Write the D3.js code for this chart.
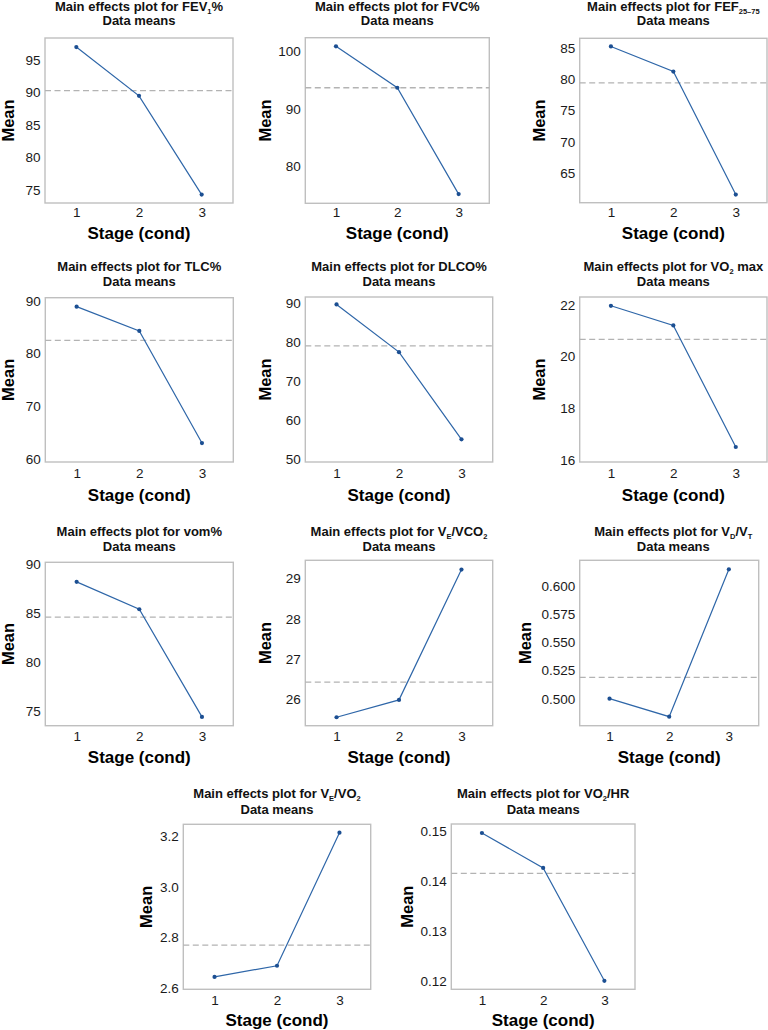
<!DOCTYPE html>
<html>
<head>
<meta charset="utf-8">
<script src="https://cdn.jsdelivr.net/npm/d3@7"></script>
<style>
  html, body { margin: 0; padding: 0; background: #fff; }
  svg { display: block; font-family: "Liberation Sans", Arial, sans-serif; }
</style>
</head>
<body>
<svg id="chart" width="768" height="1030"></svg>
<script>
// ---------- data ----------
const stages = [1, 2, 3];
const stageTicks = [1, 2, 3];
const xLabel = "Stage (cond)";
const yLabel = "Mean";
const subtitle = "Data means";

const fev1Means = [97.0, 89.5, 74.3];
const fvcMeans = [100.9, 93.7, 75.2];
const fefMeans = [85.2, 81.2, 61.6];
const tlcMeans = [88.9, 84.3, 63.0];
const dlcoMeans = [89.6, 77.4, 55.1];
const vo2maxMeans = [21.97, 21.21, 16.50];
const vomMeans = [88.2, 85.4, 74.4];
const veVco2Means = [25.56, 25.99, 29.22];
const vdVtMeans = [0.500, 0.484, 0.615];
const veVo2Means = [2.645, 2.689, 3.214];
const vo2HrMeans = [0.1496, 0.1426, 0.1200];

const grandMeans = [90.3, 93.7, 79.4, 82.5, 79.0, 20.67, 84.6, 26.43, 0.519, 2.770, 0.1415];

const fev1Ticks = [75, 80, 85, 90, 95];
const fvcTicks = [80, 90, 100];
const fefTicks = [65, 70, 75, 80, 85];
const tlcTicks = [60, 70, 80, 90];
const dlcoTicks = [50, 60, 70, 80, 90];
const vo2maxTicks = [16, 18, 20, 22];
const vomTicks = [75, 80, 85, 90];
const veVco2Ticks = [26, 27, 28, 29];
const vdVtTicks = [0.500, 0.525, 0.550, 0.575, 0.600];
const veVo2Ticks = [2.6, 2.8, 3.0, 3.2];
const vo2HrTicks = [0.12, 0.13, 0.14, 0.15];

const yDomains = [
  [73.0, 98.4], [73.6, 102.4], [60.3, 86.5], [59.4, 90.6], [49.3, 91.5],
  [15.92, 22.31], [73.5, 90.2], [25.35, 29.45], [0.476, 0.623], [2.596, 3.247], [0.1183, 0.1514]
];

// title parts: [text, isSubscript]
const titles = [
  [["Main effects plot for FEV", 0], ["1", 1], ["%", 0]],
  [["Main effects plot for FVC%", 0]],
  [["Main effects plot for FEF", 0], ["25–75", 1]],
  [["Main effects plot for TLC%", 0]],
  [["Main effects plot for DLCO%", 0]],
  [["Main effects plot for VO", 0], ["2", 1], [" max", 0]],
  [["Main effects plot for vom%", 0]],
  [["Main effects plot for V", 0], ["E", 1], ["/VCO", 0], ["2", 1]],
  [["Main effects plot for V", 0], ["D", 1], ["/V", 0], ["T", 1]],
  [["Main effects plot for V", 0], ["E", 1], ["/VO", 0], ["2", 1]],
  [["Main effects plot for VO", 0], ["2", 1], ["/HR", 0]]
];

const seriesList = [fev1Means, fvcMeans, fefMeans, tlcMeans, dlcoMeans, vo2maxMeans,
                    vomMeans, veVco2Means, vdVtMeans, veVo2Means, vo2HrMeans];
const tickList = [fev1Ticks, fvcTicks, fefTicks, tlcTicks, dlcoTicks, vo2maxTicks,
                  vomTicks, veVco2Ticks, vdVtTicks, veVo2Ticks, vo2HrTicks];
const tickFormats = ["d", "d", "d", "d", "d", "d", "d", "d", ".3f", ".1f", ".2f"];

// ---------- layout (positions only) ----------
const layout = [
  {l: 45,    r: 233,   t: 38,    b: 203,   t1: 10.5,  t2: 25.3,  xp: 4.5, sb: 239.3, mx: 14.2},
  {l: 305.3, r: 489.3, t: 37.7,  b: 203.3, t1: 10.5,  t2: 25.3,  xp: 4.5, sb: 239.3, mx: 271},
  {l: 579.7, r: 767,   t: 38.3,  b: 202.7, t1: 10.5,  t2: 25.3,  xp: 4.5, sb: 239.3, mx: 545},
  {l: 45.3,  r: 233.3, t: 297.7, b: 462,   t1: 270.7, t2: 286,   xp: 6.3, sb: 500.7, mx: 14.2},
  {l: 305.3, r: 492.7, t: 297,   b: 462,   t1: 270.7, t2: 286,   xp: 6.3, sb: 500.7, mx: 271},
  {l: 579.7, r: 767,   t: 297,   b: 462,   t1: 270.7, t2: 286,   xp: 6.3, sb: 500.7, mx: 545},
  {l: 45.3,  r: 233.3, t: 562.3, b: 725.7, t1: 535.7, t2: 550.7, xp: 6,   sb: 763.3, mx: 14.2},
  {l: 305.3, r: 492.7, t: 560.3, b: 725.7, t1: 535.7, t2: 550.7, xp: 6,   sb: 763.3, mx: 271},
  {l: 579.7, r: 758.7, t: 560.3, b: 725.7, t1: 535.7, t2: 550.7, xp: 6,   sb: 763.3, mx: 531, tx: 673.3},
  {l: 183.3, r: 370.7, t: 824.3, b: 989.3, t1: 798.3, t2: 814.3, xp: 5.8, sb: 1025.5, mx: 151.7},
  {l: 451.3, r: 635,   t: 824,   b: 989.3, t1: 798.3, t2: 814.3, xp: 5.8, sb: 1025.5, mx: 412.7}
];

const svg = d3.select("#chart");
const lineColor = "#2e66a8";
const dotColor = "#1c4f92";

seriesList.forEach((vals, i) => {
  const L = layout[i];
  const g = svg.append("g");
  const x = d3.scaleLinear().domain([0.5, 3.5]).range([L.l, L.r]);
  const y = d3.scaleLinear().domain(yDomains[i]).range([L.b, L.t]);
  const cx = L.tx !== undefined ? L.tx : (L.l + L.r) / 2;

  // frame
  g.append("rect")
    .attr("x", L.l).attr("y", L.t)
    .attr("width", L.r - L.l).attr("height", L.b - L.t)
    .attr("fill", "none").attr("stroke", "#bfbfbf").attr("stroke-width", 1.4);

  // axes
  const yAxis = d3.axisLeft(y).tickValues(tickList[i]).tickSize(0).tickPadding(4.5)
    .tickFormat(d3.format(tickFormats[i]));
  const ya = g.append("g").attr("transform", `translate(${L.l},0)`).call(yAxis);
  ya.select(".domain").remove();
  ya.selectAll("text").attr("font-size", 13.5).attr("fill", "#1a1a1a")
    .attr("font-family", "Liberation Sans, Arial, sans-serif");

  const xAxis = d3.axisBottom(x).tickValues(stageTicks).tickSize(0).tickPadding(L.xp)
    .tickFormat(d3.format("d"));
  const xa = g.append("g").attr("transform", `translate(0,${L.b})`).call(xAxis);
  xa.select(".domain").remove();
  xa.selectAll("text").attr("font-size", 13.5).attr("fill", "#1a1a1a")
    .attr("font-family", "Liberation Sans, Arial, sans-serif");

  // grand mean dashed line
  g.append("line")
    .attr("x1", L.l).attr("x2", L.r)
    .attr("y1", y(grandMeans[i])).attr("y2", y(grandMeans[i]))
    .attr("stroke", "#b3b3b3").attr("stroke-width", 1.3)
    .attr("stroke-dasharray", "6,3.5");

  // series line
  const pts = stages.map((s, k) => [s, vals[k]]);
  g.append("path")
    .datum(pts)
    .attr("fill", "none").attr("stroke", lineColor).attr("stroke-width", 1.2)
    .attr("d", d3.line().x(d => x(d[0])).y(d => y(d[1])));
  g.selectAll("circle.pt").data(pts).enter().append("circle")
    .attr("class", "pt")
    .attr("cx", d => x(d[0])).attr("cy", d => y(d[1]))
    .attr("r", 2.1).attr("fill", dotColor);

  // title
  const t = g.append("text")
    .attr("x", cx).attr("y", L.t1)
    .attr("text-anchor", "middle")
    .attr("font-size", 13).attr("font-weight", "bold").attr("fill", "#111");
  let prevSub = false;
  titles[i].forEach(([txt, sub]) => {
    const ts = t.append("tspan").text(txt);
    if (sub) { ts.attr("font-size", 7.5).attr("dy", prevSub ? 0 : 3); }
    else { ts.attr("dy", prevSub ? -3 : 0); }
    prevSub = !!sub;
  });
  g.append("text")
    .attr("x", cx).attr("y", L.t2)
    .attr("text-anchor", "middle")
    .attr("font-size", 13).attr("font-weight", "bold").attr("fill", "#111")
    .text(subtitle);

  // axis labels
  g.append("text")
    .attr("x", (L.l + L.r) / 2).attr("y", L.sb)
    .attr("text-anchor", "middle")
    .attr("font-size", 17).attr("font-weight", "bold").attr("fill", "#000")
    .text(xLabel);
  g.append("text")
    .attr("transform", `translate(${L.mx},${(L.t + L.b) / 2}) rotate(-90)`)
    .attr("text-anchor", "middle")
    .attr("font-size", 16.5).attr("font-weight", "bold").attr("fill", "#000")
    .text(yLabel);
});
</script>
</body>
</html>
